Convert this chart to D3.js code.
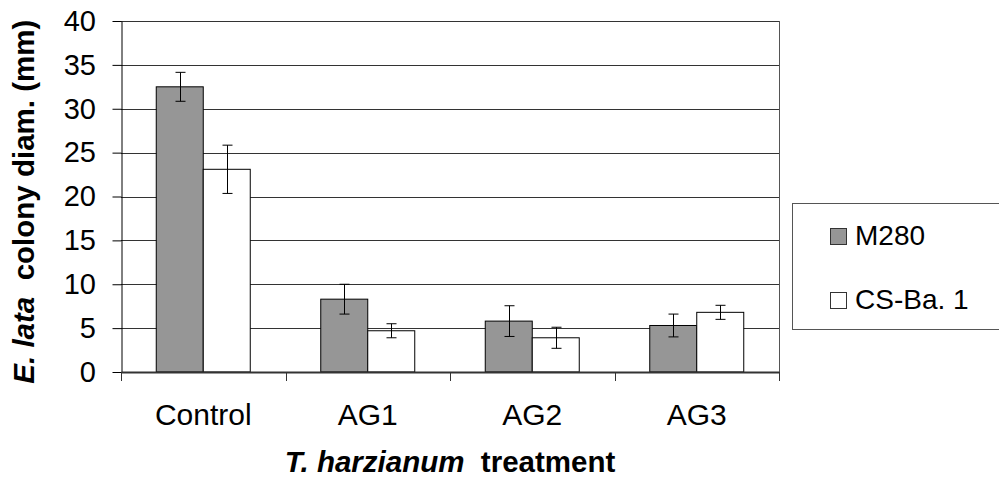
<!DOCTYPE html>
<html>
<head>
<meta charset="utf-8">
<script src="https://cdn.jsdelivr.net/npm/d3@7/dist/d3.min.js"></script>
<style>
  html, body { margin: 0; padding: 0; background: #fff; }
  svg { display: block; font-family: "Liberation Sans", Arial, sans-serif; }
</style>
</head>
<body>
<svg id="chart" width="999" height="480"></svg>
<script>
// ---- data ----
const categories = ["Control", "AG1", "AG2", "AG3"];
const seriesNames = ["M280", "CS-Ba. 1"];
const m280Values = [32.5, 8.3, 5.8, 5.3];
const m280Errors = [1.65, 1.7, 1.75, 1.3];
const csValues = [23.1, 4.7, 3.9, 6.8];
const csErrors = [2.75, 0.8, 1.2, 0.8];
const yTicks = [0, 5, 10, 15, 20, 25, 30, 35, 40];
const seriesColors = ["#969696", "#ffffff"];

const seriesValues = [m280Values, csValues];
const seriesErrors = [m280Errors, csErrors];

const FONT = "Liberation Sans, Arial, sans-serif";
const svg = d3.select("#chart");
const pLeft = 121, pRight = 779, pTop = 21, pBottom = 372;

const x = d3.scaleBand().domain(categories).range([pLeft, pRight]).paddingInner(0).paddingOuter(0);
const xs = d3.scaleBand().domain(seriesNames).range([0, x.bandwidth()]).paddingInner(0).paddingOuter(0.75);
const y = d3.scaleLinear().domain([0, 40]).range([pBottom, pTop]);

// gridlines
svg.append("g")
  .selectAll("line")
  .data(yTicks.filter(d => d > 0))
  .join("line")
  .attr("x1", pLeft).attr("x2", pRight)
  .attr("y1", d => Math.round(y(d)) + 0.5).attr("y2", d => Math.round(y(d)) + 0.5)
  .attr("stroke", "#333").attr("stroke-width", 1);

// right border of plot area
svg.append("line")
  .attr("x1", pRight + 0.5).attr("x2", pRight + 0.5)
  .attr("y1", pTop).attr("y2", pBottom)
  .attr("stroke", "#555").attr("stroke-width", 1);

// bars
const rows = [];
categories.forEach((c, i) => {
  seriesNames.forEach((s, j) => {
    rows.push({ c, s, j, v: seriesValues[j][i], e: seriesErrors[j][i] });
  });
});

svg.append("g")
  .selectAll("rect")
  .data(rows)
  .join("rect")
  .attr("x", d => x(d.c) + xs(d.s))
  .attr("y", d => y(d.v))
  .attr("width", xs.bandwidth())
  .attr("height", d => y(0) - y(d.v))
  .attr("fill", d => seriesColors[d.j])
  .attr("stroke", "#000")
  .attr("stroke-width", 1);

// error bars
const eb = svg.append("g").attr("stroke", "#000").attr("stroke-width", 1);
rows.forEach(d => {
  const cx = Math.round(x(d.c) + xs(d.s) + xs.bandwidth() / 2) + 0.5;
  const y1 = y(d.v + d.e), y2 = y(d.v - d.e);
  eb.append("line").attr("x1", cx).attr("x2", cx).attr("y1", y1).attr("y2", y2);
  eb.append("line").attr("x1", cx - 5).attr("x2", cx + 5).attr("y1", y1).attr("y2", y1);
  eb.append("line").attr("x1", cx - 5).attr("x2", cx + 5).attr("y1", y2).attr("y2", y2);
});

// y axis
const yAxis = svg.append("g")
  .attr("transform", `translate(${pLeft + 0.5},0)`)
  .call(d3.axisLeft(y).tickValues(yTicks).tickSize(9).tickSizeOuter(0).tickPadding(16.5));
yAxis.select(".domain").attr("stroke", "#000");
yAxis.selectAll(".tick line").attr("stroke", "#000");
yAxis.selectAll("text").attr("font-size", 29).attr("font-family", FONT).attr("fill", "#000");
// extend y-axis line to category tick bottom
svg.append("line").attr("x1", pLeft + 0.5).attr("x2", pLeft + 0.5).attr("y1", pBottom).attr("y2", pBottom + 9).attr("stroke", "#000");

// x axis
const xAxis = svg.append("g")
  .attr("transform", `translate(0,${pBottom})`)
  .call(d3.axisBottom(x).tickSize(0).tickSizeOuter(0).tickPadding(31.7));
xAxis.select(".domain").attr("stroke", "#333").attr("stroke-width", 2);
xAxis.selectAll("text").attr("font-size", 30).attr("font-family", FONT).attr("fill", "#000");

// category boundary ticks
const boundaries = categories.map(c => x(c)).concat([pRight]);
svg.append("g")
  .selectAll("line")
  .data(boundaries)
  .join("line")
  .attr("x1", d => Math.round(d) + 0.5).attr("x2", d => Math.round(d) + 0.5)
  .attr("y1", pBottom).attr("y2", pBottom + 9)
  .attr("stroke", "#333").attr("stroke-width", 1);

// axis titles
const yt = svg.append("text")
  .attr("transform", `translate(34,201.7) rotate(-90)`)
  .attr("text-anchor", "middle")
  .attr("font-family", FONT)
  .attr("font-size", 29.5).attr("font-weight", "bold").attr("fill", "#000");
yt.append("tspan").attr("font-style", "italic").text("E. lata");
yt.append("tspan").text("\u00a0 colony diam. (mm)");

const xt = svg.append("text")
  .attr("x", (pLeft + pRight) / 2).attr("y", 472)
  .attr("text-anchor", "middle")
  .attr("font-family", FONT)
  .attr("font-size", 29.5).attr("font-weight", "bold").attr("fill", "#000");
xt.append("tspan").attr("font-style", "italic").text("T. harzianum");
xt.append("tspan").text("\u00a0 treatment");

// legend
const lg = svg.append("g");
lg.append("rect").attr("x", 792.5).attr("y", 203.5).attr("width", 230).attr("height", 126)
  .attr("fill", "#fff").attr("stroke", "#555").attr("stroke-width", 1);
const legendBaselines = [245, 309];
seriesNames.forEach((s, j) => {
  lg.append("rect").attr("x", 830.5).attr("y", legendBaselines[j] - 16.5).attr("width", 16).attr("height", 16)
    .attr("fill", seriesColors[j]).attr("stroke", "#333").attr("stroke-width", 1);
  lg.append("text").attr("x", 855).attr("y", legendBaselines[j])
    .attr("font-family", FONT)
    .attr("font-size", 28).attr("fill", "#000").text(s);
});
</script>
</body>
</html>
